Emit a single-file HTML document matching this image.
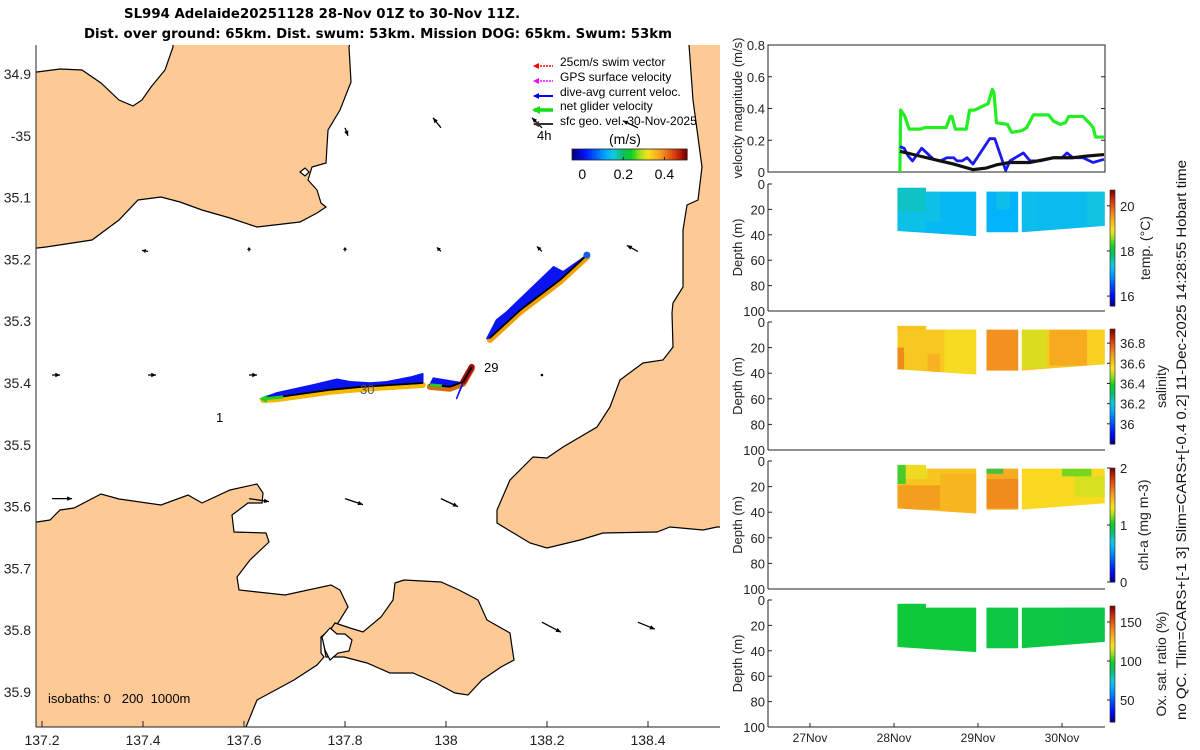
<!DOCTYPE html>
<html><head><meta charset="utf-8"><style>
html,body{margin:0;padding:0;background:#fff;}
svg{display:block;font-family:"Liberation Sans","DejaVu Sans",sans-serif;}
</style></head><body>
<svg id="fig" xmlns="http://www.w3.org/2000/svg" width="1200" height="750" viewBox="0 0 1200 750">
<rect width="1200" height="750" fill="#fff"/>
<text x="322" y="18" text-anchor="middle" font-size="13" font-weight="bold" font-family="DejaVu Sans, sans-serif" textLength="396" lengthAdjust="spacingAndGlyphs">SL994 Adelaide20251128 28-Nov 01Z to 30-Nov 11Z.</text>
<text x="378" y="38" text-anchor="middle" font-size="13" font-weight="bold" font-family="DejaVu Sans, sans-serif" textLength="588" lengthAdjust="spacingAndGlyphs">Dist. over ground: 65km. Dist. swum: 53km. Mission DOG: 65km. Swum: 53km</text>
<g id="map">
<clipPath id="mapclip"><rect x="36" y="45" width="684" height="682"/></clipPath>
<g clip-path="url(#mapclip)" id="land" fill="#fdca96" stroke="#000" stroke-width="1.2">
<path d="M20,72 L37,72 L60,69 L82,70 L101,83 L119,100 L133,106 L142,100 L151,87 L165,70 L173,47 L173,40 L351,40 L349,47 L351,82 L340,110 L328,130 L326,163 L312,167 L308,180 L317,190 L321,203 L326,207 L317,213 L300,222 L257,227 L230,218 L202,210 L180,202 L161,197 L138,200 L119,220 L92,240 L46,247 L20,250 Z"/>
<path d="M689,40 L689,45 L693,100 L702,167 L698,200 L687,205 L683,230 L683,287 L673,303 L672,313 L673,347 L663,360 L643,363 L620,380 L610,407 L597,427 L563,447 L547,458 L533,457 L510,480 L497,510 L497,523 L530,543 L547,548 L580,540 L603,533 L657,532 L670,527 L703,530 L717,527 L730,527 L730,40 Z"/>
<path d="M20,522 L37,522 L50,520 L60,510 L74,508 L101,494 L119,499 L161,505 L188,495 L202,503 L230,490 L257,484 L263,493 L262,503 L248,503 L232,515 L234,532 L266,533 L269,542 L250,560 L237,577 L239,590 L285,595 L331,585 L340,590 L348,607 L338,623 L321,637 L321,653 L324,657 L317,665 L294,680 L257,700 L246,727 L246,740 L20,740 Z"/>
<path d="M335,623 L350,628 L363,632 L381,617 L393,600 L395,583 L404,580 L441,582 L459,590 L478,600 L487,620 L510,633 L512,647 L514,660 L501,667 L482,680 L468,695 L455,693 L436,683 L413,673 L390,673 L367,663 L344,657 L326,657 L323,640 Z"/>
<path fill="#fff" d="M322,637 L330,628 L337,634 L345,634 L352,640 L349,651 L338,653 L330,660 L325,650 Z"/>
<path fill="#fff" d="M300,172 L305,168 L309,172 L305,176 Z"/>
</g>
<g id="quiver"></g>
<g id="track"></g>
<line x1="36" y1="45" x2="36" y2="727" stroke="#222" stroke-width="1"/>
<line x1="36" y1="727" x2="720" y2="727" stroke="#222" stroke-width="1"/>
<g id="mapticks" font-size="14" fill="#222"></g>
<text x="484" y="372" font-size="13">29</text>
<text x="360" y="394" font-size="13" fill="#555">30</text>
<text x="216" y="422" font-size="13">1</text>
<text x="48" y="703" font-size="13" xml:space="preserve">isobaths: 0   200  1000m</text>
<g id="legend" font-size="12">
<line x1="534" y1="66" x2="553" y2="66" stroke="#f00" stroke-width="1.5" stroke-dasharray="2,1"/><path d="M533,66 L539,63 L539,69Z" fill="#f00"/>
<text x="560" y="66">25cm/s swim vector</text>
<line x1="534" y1="81" x2="553" y2="81" stroke="#f0f" stroke-width="1.5" stroke-dasharray="2,1"/><path d="M533,81 L539,78 L539,84Z" fill="#f0f"/>
<text x="560" y="81">GPS surface velocity</text>
<line x1="534" y1="96" x2="553" y2="96" stroke="#00f" stroke-width="2"/><path d="M533,96 L539,93 L539,99Z" fill="#00f"/>
<text x="560" y="96">dive-avg current veloc.</text>
<line x1="534" y1="110" x2="553" y2="110" stroke="#1d1" stroke-width="3.5"/><path d="M532,110 L540,106 L540,114Z" fill="#1d1"/>
<text x="560" y="110">net glider velocity</text>
<line x1="534" y1="124" x2="553" y2="124" stroke="#333" stroke-width="2"/><path d="M533,124 L539,121 L539,127Z" fill="#333"/>
<text x="560" y="125">sfc geo. vel. 30-Nov-2025</text>
<text x="537" y="140" font-size="13">4h</text>
<text x="609" y="144" font-size="14">(m/s)</text>
</g>
<g id="mapcbar"></g>
</g>
<g id="right"></g>
<text transform="translate(1186,440) rotate(-90)" text-anchor="middle" font-size="14" fill="#111" textLength="560" lengthAdjust="spacingAndGlyphs">no QC. Tlim=CARS+[-1 3] Slim=CARS+[-0.4 0.2] 11-Dec-2025 14:28:55 Hobart time</text>
</svg>
<script>
// ---------- MAP DATA ----------
const mapLonTicks = [137.2,137.4,137.6,137.8,138,138.2,138.4];
const mapLatTicks = [34.9,35,35.1,35.2,35.3,35.4,35.5,35.6,35.7,35.8,35.9];
const mapLatLabels = ["34.9","-35","35.1","35.2","35.3","35.4","35.5","35.6","35.7","35.8","35.9"];
const trackLon = [137.638,137.665,137.770,137.836,137.954,null,137.968,138.008,138.034,138.051,null,138.087,138.147,138.226,138.279];
const trackLat = [35.424,35.423,35.411,35.406,35.400,null,35.403,35.406,35.398,35.374,null,35.327,35.282,35.233,35.193];
const curALon = [137.665,137.737,137.784,137.810,137.850,137.883,137.932,137.954];
const curALat = [35.416,35.403,35.394,35.398,35.400,35.398,35.390,35.385];
const curBLon = [137.975,138.034,138.021];
const curBLat = [35.392,35.400,35.425];
const curCLon = [138.081,138.100,138.120,138.213,138.232,138.279];
const curCLat = [35.328,35.298,35.285,35.212,35.220,35.193];
const gridLon = [137.22,137.41,137.61,137.8,137.99,138.19,138.38];
const gridLat = [35.0,35.2,35.4,35.6,35.8];
const gridU = [
 [null,null,null,0.03,-0.08,-0.10,-0.15],
 [null,-0.06,0.0,0.0,-0.04,-0.05,-0.11],
 [0.08,0.08,0.08,null,null,0.0,null],
 [0.20,null,0.20,0.18,0.17,null,null],
 [null,null,null,null,null,0.19,0.17]];
const gridV = [
 [null,null,null,-0.08,0.10,0.10,0.07],
 [null,0.01,0.04,0.04,0.04,0.05,0.06],
 [0.0,0.0,0.0,null,null,0.0,null],
 [0.0,null,-0.03,-0.06,-0.08,null,null],
 [null,null,null,null,null,-0.10,-0.07]];
const cbarTicks = [0,0.2,0.4];

// ---------- TIME SERIES DATA ----------
const greenT = [28.07,28.08,28.13,28.18,28.31,28.37,28.62,28.67,28.69,28.73,28.86,28.90,28.96,29.12,29.17,29.19,29.22,29.35,29.40,29.52,29.58,29.66,29.84,29.90,29.98,30.04,30.08,30.25,30.34,30.37,30.40,30.50];
const greenV = [0,0.39,0.35,0.27,0.27,0.28,0.28,0.35,0.35,0.27,0.27,0.39,0.39,0.43,0.52,0.50,0.31,0.30,0.25,0.26,0.28,0.36,0.36,0.32,0.30,0.31,0.35,0.35,0.30,0.28,0.22,0.22];
const blueT = [28.07,28.12,28.17,28.22,28.33,28.47,28.55,28.63,28.71,28.75,28.81,28.87,28.94,29.14,29.20,29.33,29.38,29.54,29.62,29.74,29.90,30.00,30.06,30.13,30.25,30.37,30.50];
const blueV = [0.16,0.15,0.10,0.07,0.15,0.08,0.07,0.09,0.09,0.07,0.07,0.09,0.05,0.21,0.21,0.01,0.07,0.12,0.07,0.07,0.09,0.09,0.12,0.09,0.09,0.06,0.08];
const blackT = [28.07,28.31,28.55,28.71,28.94,29.10,29.22,29.38,29.62,29.90,30.13,30.29,30.50];
const blackV = [0.13,0.10,0.07,0.05,0.015,0.025,0.045,0.06,0.06,0.09,0.09,0.10,0.11];
const dayTicks = [27,28,29,30];
const dayLabels = ["27Nov","28Nov","29Nov","30Nov"];
const velTicks = [0,0.2,0.4,0.6,0.8];
const depthTicks = [0,20,40,60,80,100];
const blockStart = [28.04,29.10,29.52];
const blockEnd = [28.98,29.48,30.51];
const blockTop = [6,6,6];
const blockBotA = [37,38,38];
const blockBotB = [41,38,33];
const tempBase = [17.2,17.15,17.25];
const tempPatches = [[28.04,28.38,3,22,17.55],[28.04,28.38,22,37,17.35],[28.38,28.55,6,30,17.35],[29.22,29.38,6,20,17.35],[29.52,29.7,6,36,17.3],[30.3,30.51,6,33,17.4]];
const salBase = [36.6,36.7,36.6];
const salPatches = [[28.04,28.38,3,6,36.62],[28.6,28.98,6,41,36.55],[28.04,28.12,20,37,36.74],[28.4,28.55,25,40,36.66],[29.52,29.82,6,36,36.52],[29.85,30.3,6,34,36.68],[30.3,30.51,6,33,36.58]];
const chlBase = [1.42,1.5,1.35];
const chlPatches = [[28.04,28.38,3,6,1.3],[28.04,28.14,3,18,1.0],[28.14,28.4,6,14,1.3],[28.04,28.55,19,38,1.58],[28.55,28.98,10,41,1.48],[29.1,29.3,6,10,0.95],[29.1,29.48,14,37,1.62],[30.0,30.35,6,12,1.1],[30.15,30.51,12,28,1.25]];
const oxBase = [95,94,94];
const oxPatches = [[30.0,30.51,6,33,92]];
const tempCbarTicks = [16,18,20];
const salCbarTicks = [36,36.2,36.4,36.6,36.8];
const chlCbarTicks = [0,1,2];
const oxCbarTicks = [50,100,150];

const NS = "http://www.w3.org/2000/svg";
function mk(tag, attrs, parent){ const e=document.createElementNS(NS,tag); for(const k in attrs) e.setAttribute(k,attrs[k]); if(parent) parent.appendChild(e); return e; }
const mx = lon => 42 + (lon-137.2)*505;
const my = lat => 74 + (lat-34.9)*618;
const stops = [[0,[0,0,128]],[0.1,[0,16,255]],[0.3,[0,176,255]],[0.36,[20,200,220]],[0.44,[10,190,110]],[0.52,[16,208,32]],[0.6,[170,225,30]],[0.66,[248,226,32]],[0.77,[246,160,32]],[0.9,[220,60,16]],[1,[128,0,0]]];
function cmap(f){ f=Math.max(0,Math.min(1,f)); for(let i=1;i<stops.length;i++){ if(f<=stops[i][0]){ const a=stops[i-1],b=stops[i]; const t=(f-a[0])/(b[0]-a[0]); const c=a[1].map((v,j)=>Math.round(v+(b[1][j]-v)*t)); return `rgb(${c[0]},${c[1]},${c[2]})`; } } return "rgb(128,0,0)"; }

const mt = document.getElementById('mapticks');
mapLonTicks.forEach((lon,i)=>{
  const t = mk('text',{x:mx(lon),y:745,'text-anchor':'middle'},mt);
  
  
  t.textContent = String(lon);
  const l = mk('line',{x1:mx(lon),y1:727,x2:mx(lon),y2:721,stroke:'#222'},mt);
  
  
});
mapLatTicks.forEach((lat,i)=>{
  const t = mk('text',{x:31,y:my(lat)+5,'text-anchor':'end'},mt);
  
  
  t.textContent = mapLatLabels[i];
});

const qg = document.getElementById('quiver');
const QS = 100;
gridLat.forEach((lat,r)=>{ gridLon.forEach((lon,c)=>{
  const u = gridU[r][c], v = gridV[r][c]; if(u===null) return;
  const x0=mx(lon), y0=my(lat)-8, x1=x0+u*QS, y1=y0-v*QS;
  const g = mk('g',{},qg);
  
  
  mk('line',{x1:x0,y1:y0,x2:x1,y2:y1,stroke:'#000','stroke-width':1.3},g);
  const len=Math.hypot(x1-x0,y1-y0);
  if(len<1){ mk('circle',{cx:x0,cy:y0,r:1.3,fill:'#000'},g); return; }
  const ux=(x1-x0)/len, uy=(y1-y0)/len, h=Math.min(5,len*0.6);
  mk('path',{d:`M${x1},${y1} L${x1-ux*h-uy*2.2},${y1-uy*h+ux*2.2} L${x1-ux*h+uy*2.2},${y1-uy*h-ux*2.2}Z`,fill:'#000'},g);
});});

const tg = document.getElementById('track');
function segs(lons,lats){ const out=[]; let cur=[]; lons.forEach((lo,i)=>{ if(lo===null){ if(cur.length) out.push(cur); cur=[]; } else cur.push([mx(lo),my(lats[i])]); }); if(cur.length) out.push(cur); return out; }
const trk = segs(trackLon,trackLat);
const segCols = [['#f5b800','#f0d000'],['#d07010','#901000'],['#f0a000','#b0e020']];
trk.forEach((s,i)=>{
  const d='M'+s.map(p=>p.join(',')).join(' L');
  const a = mk('path',{d:d,fill:'none',stroke:segCols[i][0],'stroke-width':6,'stroke-linecap':'round','stroke-linejoin':'round',transform:'translate(0,2)'},tg);
  
  
});
function curPoly(lons,lats,seg,name){
  const pts = lons.map((lo,i)=>[mx(lo),my(lats[i])]).concat(seg.slice().reverse());
  const p = mk('polygon',{points:pts.map(q=>q.join(',')).join(' '),fill:'#0a14f0',stroke:'#0a14f0','stroke-width':1.5,'stroke-linejoin':'round'},tg);
  
  
}
curPoly(curALon,curALat,trk[0],'current-vectors-west-leg');
curPoly(curBLon,curBLat,trk[1].slice(0,3),'current-vectors-mid-leg');
curPoly(curCLon,curCLat,trk[2],'current-vectors-north-leg');
const rb = mk('path',{d:`M${trk[1][2][0]},${trk[1][2][1]} L${trk[1][3][0]},${trk[1][3][1]}`,stroke:'#a01008','stroke-width':6,'stroke-linecap':'round'},tg);


trk.forEach(s=>{
  const l = mk('path',{d:'M'+s.map(p=>p.join(',')).join(' L'),fill:'none',stroke:'#000','stroke-width':1.8},tg);
  
  
});
const ga = mk('g',{},tg);


const s0=trk[0][0];
mk('line',{x1:s0[0]+20,y1:s0[1]-1,x2:s0[0],y2:s0[1]+1,stroke:'#2c2','stroke-width':3},ga);
mk('path',{d:`M${s0[0]-4},${s0[1]+1} L${s0[0]+4},${s0[1]-3} L${s0[0]+4},${s0[1]+5}Z`,fill:'#2c2'},ga);
const s1=trk[1][0];
mk('line',{x1:s1[0]+12,y1:s1[1]+1,x2:s1[0],y2:s1[1],stroke:'#2c2','stroke-width':3},ga);
const s2=trk[2][3];
mk('circle',{cx:s2[0],cy:s2[1],r:3.5,fill:'#1060e0'},ga);

const mc = document.getElementById('mapcbar');
const cbx0=572, cbx1=687, cby=149, cbh=11, cbmin=-0.05, cbmax=0.51;
for(let i=0;i<46;i++){ const f=i/45; mk('rect',{x:cbx0+(cbx1-cbx0)*i/46,y:cby,width:(cbx1-cbx0)/46+0.6,height:cbh,fill:cmap(f)},mc); }
mk('rect',{x:cbx0,y:cby,width:cbx1-cbx0,height:cbh,fill:'none',stroke:'#222','stroke-width':0.8},mc);
cbarTicks.forEach(v=>{
  const x = cbx0+(v-cbmin)/(cbmax-cbmin)*(cbx1-cbx0);
  mk('line',{x1:x,y1:cby+cbh,x2:x,y2:cby+cbh-3,stroke:'#222'},mc);
  const t = mk('text',{x:x,y:179,'text-anchor':'middle','font-size':14},mc);
  
  
  t.textContent = String(v);
});

const R = document.getElementById('right');
const X0=768, X1=1105;
const tx = d => X0 + (d-26.5)*84;
const VT=45, VB=172;
const vy = v => VB - v/0.8*(VB-VT);
const vp = mk('g',{},R);


mk('rect',{x:X0,y:VT,width:X1-X0,height:VB-VT,fill:'none',stroke:'#222','stroke-width':1},vp);
velTicks.forEach(v=>{
  mk('line',{x1:X0,y1:vy(v),x2:X0+4,y2:vy(v),stroke:'#222'},vp);
  mk('line',{x1:X1,y1:vy(v),x2:X1-4,y2:vy(v),stroke:'#222'},vp);
  const t = mk('text',{x:765,y:vy(v)+5,'text-anchor':'end','font-size':13,fill:'#222'},vp);
  
  
  t.textContent = v===0?'0':v.toFixed(1);
});
function line(T,V,col,w,name){
  const p = mk('polyline',{points:T.map((t,i)=>tx(t)+','+vy(V[i])).join(' '),fill:'none',stroke:col,'stroke-width':w,'stroke-linejoin':'round'},vp);
  
  
}
line(greenT,greenV,'#22ee22',3.2,'net-glider-speed-line');
line(blueT,blueV,'#1a1aee',2.8,'current-speed-line');
line(blackT,blackV,'#111',3.2,'geo-velocity-line');
const vl = mk('text',{transform:'translate(742,108) rotate(-90)','text-anchor':'middle','font-size':13,fill:'#222'},R);


vl.textContent='velocity magnitude (m/s)';

const panels = [
 {name:'temperature',top:184,bot:311,base:tempBase,patches:tempPatches,vmin:15.56,vmax:20.7,cTop:190,cBot:306,ticks:tempCbarTicks,label:'temp. (°C)',lx:1150},
 {name:'salinity',top:322,bot:450,base:salBase,patches:salPatches,vmin:35.8,vmax:36.94,cTop:329,cBot:444,ticks:salCbarTicks,label:'salinity',lx:1166},
 {name:'chlorophyll',top:461,bot:589,base:chlBase,patches:chlPatches,vmin:0,vmax:2,cTop:468,cBot:582,ticks:chlCbarTicks,label:'chl-a (mg m-3)',lx:1148},
 {name:'oxygen',top:600,bot:727,base:oxBase,patches:oxPatches,vmin:21.8,vmax:170.5,cTop:606,cBot:722,ticks:oxCbarTicks,label:'Ox. sat. ratio (%)',lx:1166}
];
panels.forEach((P,pi)=>{
  const g = mk('g',{},R);
  
  
  const dy = d => P.top + d/100*(P.bot-P.top);
  const col = v => cmap((v-P.vmin)/(P.vmax-P.vmin));
  const clipId='clip'+pi;
  const cp = mk('clipPath',{id:clipId},g);
  blockStart.forEach((s,b)=>{
    const top = blockTop[b];
    const pts = [[tx(s),dy(b===0?3:top)],[tx(b===0?28.38:s),dy(b===0?3:top)],[tx(b===0?28.38:s),dy(top)],[tx(blockEnd[b]),dy(top)],[tx(blockEnd[b]),dy(blockBotB[b])],[tx(s),dy(blockBotA[b])]];
    mk('polygon',{points:pts.map(q=>q.join(',')).join(' ')},cp);
  });
  const body = mk('g',{'clip-path':`url(#${clipId})`},g);
  blockStart.forEach((s,b)=>{
    const r = mk('rect',{x:tx(s),y:dy(0),width:tx(blockEnd[b])-tx(s),height:dy(45)-dy(0),fill:col(P.base[b])},body);
    
    
  });
  P.patches.forEach(p=>{
    const r = mk('rect',{x:tx(p[0]),y:dy(p[2]),width:tx(p[1])-tx(p[0]),height:dy(p[3])-dy(p[2]),fill:col(p[4]),opacity:0.75},body);
    
    
  });
  mk('line',{x1:X0,y1:P.top,x2:X0,y2:P.bot,stroke:'#222'},g);
  mk('line',{x1:X0,y1:P.bot,x2:X1,y2:P.bot,stroke:'#222'},g);
  depthTicks.forEach(d=>{
    mk('line',{x1:X0,y1:dy(d),x2:X0+4,y2:dy(d),stroke:'#222'},g);
    const t = mk('text',{x:765,y:dy(d)+5,'text-anchor':'end','font-size':13,fill:'#222'},g);
    
    
    t.textContent=String(d);
  });
  const yl = mk('text',{transform:`translate(742,${(P.top+P.bot)/2}) rotate(-90)`,'text-anchor':'middle','font-size':13,fill:'#222'},g);
  
  
  yl.textContent='Depth (m)';
  const cb = mk('g',{},g);
  
  
  const n=40;
  for(let i=0;i<n;i++){ mk('rect',{x:1110,y:P.cBot-(i+1)*(P.cBot-P.cTop)/n,width:5,height:(P.cBot-P.cTop)/n+0.5,fill:cmap((i+0.5)/n)},cb); }
  mk('rect',{x:1110,y:P.cTop,width:5,height:P.cBot-P.cTop,fill:'none',stroke:'#222','stroke-width':0.6},cb);
  P.ticks.forEach(v=>{
    const y = P.cBot-(v-P.vmin)/(P.vmax-P.vmin)*(P.cBot-P.cTop);
    mk('line',{x1:1107,y1:y,x2:1110,y2:y,stroke:'#222'},cb);
    const t = mk('text',{x:1120,y:y+5,'font-size':13,fill:'#222'},cb);
    
    
    t.textContent=String(v);
  });
  const cl = mk('text',{transform:`translate(${P.lx},${(P.cTop+P.cBot)/2}) rotate(-90)`,'text-anchor':'middle','font-size':14,fill:'#222'},g);
  
  
  cl.textContent=P.label;
});
dayTicks.forEach((d,i)=>{
  mk('line',{x1:tx(d),y1:727,x2:tx(d),y2:723,stroke:'#222'},R);
  const t = mk('text',{x:tx(d),y:742,'text-anchor':'middle','font-size':12,fill:'#222'},R);
  
  
  t.textContent=dayLabels[i];
});
</script>
</body></html>
